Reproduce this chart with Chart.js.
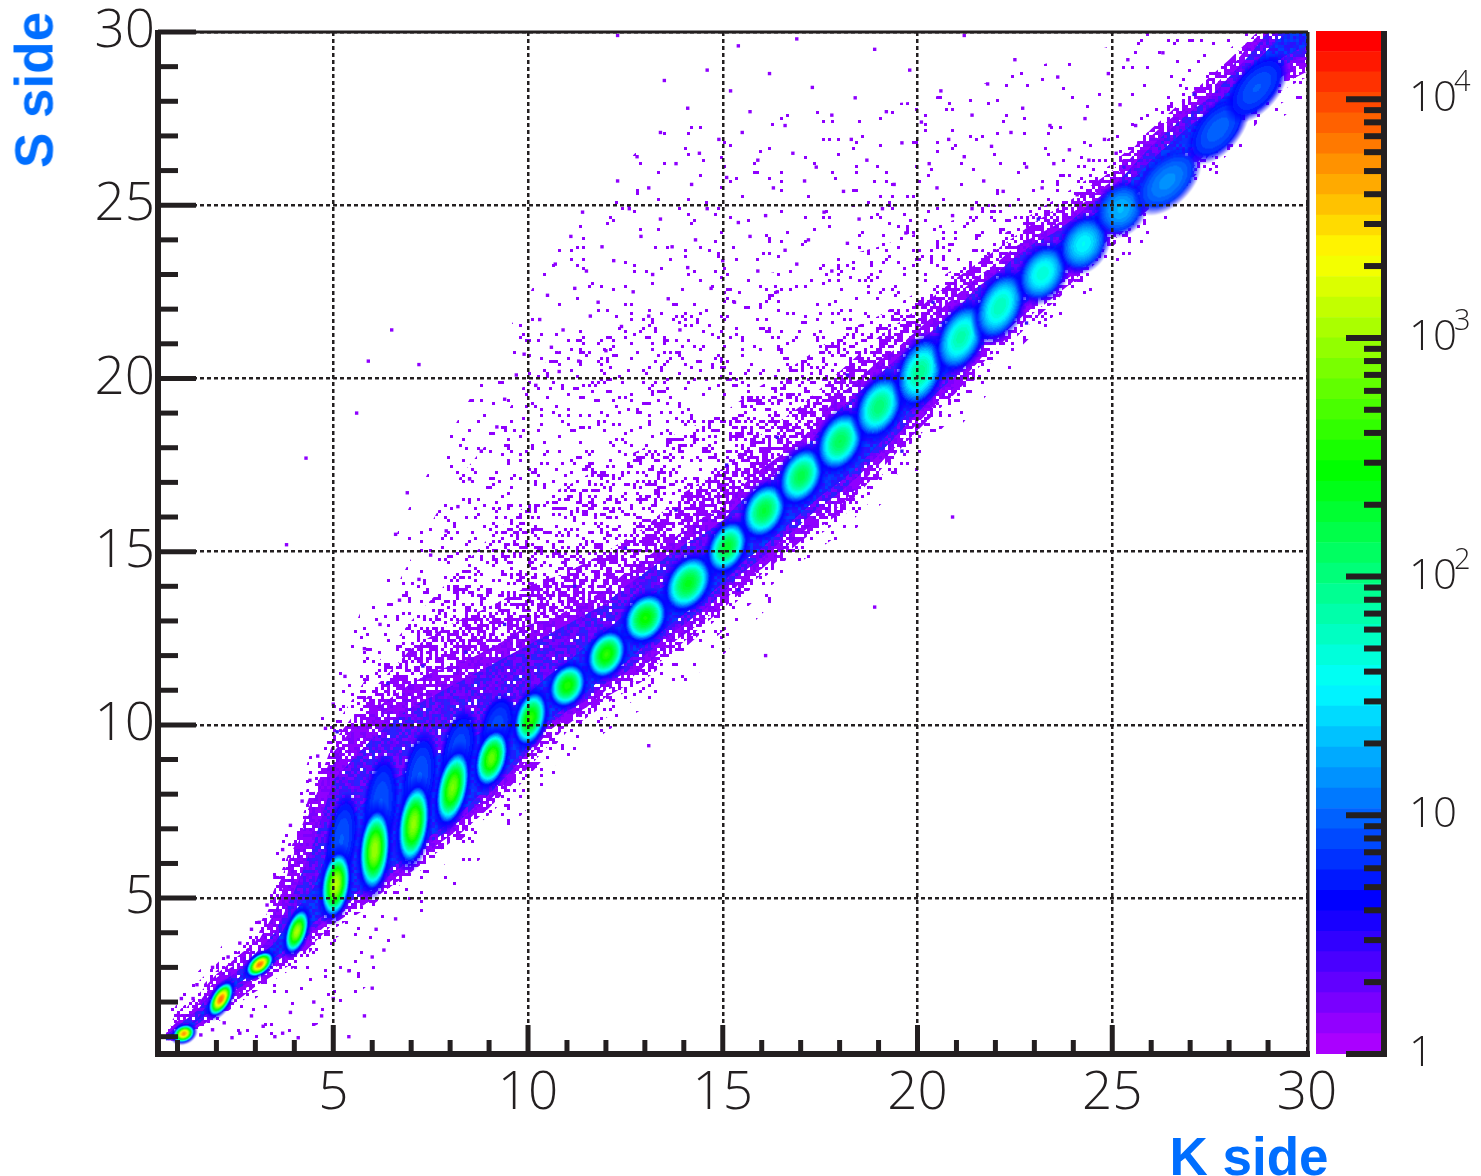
<!DOCTYPE html>
<html>
<head>
<meta charset="utf-8">
<title>S side vs K side</title>
<script src="https://cdn.jsdelivr.net/npm/chart.js@4"></script>
<style>
  html, body { margin: 0; padding: 0; background: #fff; }
  #wrap { position: relative; width: 1481px; height: 1176px; overflow: hidden; }
  canvas { position: absolute; left: 0; top: 0; }
  .axisName { position: absolute; font: bold 53px "Liberation Sans", sans-serif; color: #006eff; white-space: nowrap; line-height: 1; }
</style>
</head>
<body>
<div id="wrap">
  <canvas id="map" width="1481" height="1176"></canvas>
  <canvas id="bar" width="1481" height="1176"></canvas>
  <span class="axisName" style="left:34px;top:90px;transform:translate(-50%,-50%) rotate(-90deg)">S side</span>
  <span class="axisName" style="left:1249px;top:1156px;transform:translate(-50%,-50%)">K side</span>
</div>
<script>
const majorTicks = [5, 10, 15, 20, 25, 30];
const minorTicks = [1, 2, 3, 4, 6, 7, 8, 9, 11, 12, 13, 14, 16, 17, 18, 19, 21, 22, 23, 24, 26, 27, 28, 29];

// outline of the dense band, read every half unit along K
const bandK = [0.7, 1, 1.5, 2, 2.5, 3, 3.5, 4, 4.5, 5, 5.5, 6, 6.5, 7, 7.5, 8, 8.5, 9, 9.5, 10, 10.5, 11, 11.5, 12, 12.5, 13, 13.5, 14, 14.5, 15, 15.5, 16, 16.5, 17, 17.5, 18, 18.5, 19, 19.5, 20, 20.5, 21, 21.5, 22, 22.5, 23, 23.5, 24, 24.5, 25, 25.5, 26, 26.5, 27, 27.5, 28, 28.5, 29, 29.5, 30];
const outerUpper = [1.1, 1.45, 1.9, 2.7, 3.1, 3.6, 4.6, 6.3, 7.8, 9.2, 9.9, 10.4, 10.8, 11.2, 11.5, 11.7, 11.9, 12.2, 12.5, 12.9, 13, 13.3, 13.6, 13.9, 14.4, 14.8, 15.2, 15.6, 16, 16.2, 16.9, 17.4, 17.8, 18.2, 18.9, 19.5, 20, 20.5, 20.9, 21.4, 21.9, 22.4, 22.9, 23.3, 23.8, 24.1, 24.4, 24.8, 25.3, 25.7, 26.4, 27, 27.5, 27.9, 28.3, 28.9, 29.6, 30.2, 30.4, 30.5];
const outerLower = [0.9, 0.9, 1.25, 1.65, 2.2, 2.6, 3, 3.3, 3.9, 4.4, 4.8, 5.1, 5.5, 5.95, 6.4, 6.8, 7.3, 7.8, 8.4, 9, 9.8, 10.2, 10.5, 11, 11.2, 11.7, 12.2, 12.6, 13, 13.5, 14.2, 14.5, 15, 15.5, 16, 16.3, 16.9, 17.5, 18.1, 18.7, 19.3, 19.8, 20.4, 21.1, 21.6, 22.1, 22.6, 23, 23.6, 24.1, 24.7, 25.1, 25.6, 26, 26.6, 27.2, 27.9, 28.5, 28.8, 29];
const midUpper = [1.05, 1.3, 1.75, 2.45, 2.85, 3.4, 4, 5.2, 6.6, 8.4, 9, 9.6, 10.1, 10.5, 10.8, 11.1, 11.4, 11.7, 12, 12.3, 12.6, 12.9, 13.2, 13.5, 14, 14.4, 14.8, 15.2, 15.5, 15.9, 16.5, 16.9, 17.4, 17.9, 18.5, 19.1, 19.6, 20.1, 20.6, 21, 21.5, 22, 22.6, 23, 23.5, 23.9, 24.2, 24.6, 25.1, 25.5, 26.1, 26.7, 27.2, 27.7, 28.1, 28.7, 29.3, 30, 30.3, 30.4];
const midLower = [0.9, 0.92, 1.35, 1.75, 2.35, 2.7, 3.15, 3.5, 4.1, 4.5, 4.95, 5.25, 5.7, 6.1, 6.6, 7, 7.5, 8, 8.6, 9.2, 9.95, 10.4, 10.7, 11.2, 11.5, 12, 12.5, 12.9, 13.3, 13.8, 14.4, 14.8, 15.3, 15.8, 16.3, 16.7, 17.2, 17.8, 18.4, 19, 19.6, 20.1, 20.7, 21.4, 21.9, 22.4, 22.9, 23.3, 23.9, 24.4, 25, 25.4, 25.9, 26.3, 26.9, 27.5, 28.2, 28.8, 29.1, 29.3];
const coreUpper = [1, 1.2, 1.5, 2.3, 2.6, 3.25, 3.7, 4.6, 5.3, 6.8, 7.4, 8, 8.4, 8.7, 9, 9.3, 9.6, 9.9, 10.4, 10.9, 11.4, 11.8, 12.3, 12.7, 13.2, 13.6, 14, 14.5, 14.9, 15.3, 15.9, 16.3, 16.8, 17.3, 17.9, 18.5, 19, 19.5, 20, 20.5, 21, 21.5, 22.1, 22.5, 23, 23.4, 23.8, 24.2, 24.7, 25.1, 25.7, 26.3, 26.8, 27.3, 27.7, 28.3, 28.9, 29.5, 30, 30.2];
const coreLower = [0.92, 0.95, 1.45, 1.85, 2.5, 2.85, 3.3, 3.7, 4.3, 4.7, 5.1, 5.45, 5.9, 6.3, 6.8, 7.2, 7.7, 8.25, 8.8, 9.4, 10.1, 10.55, 10.95, 11.45, 11.8, 12.3, 12.75, 13.2, 13.6, 14.1, 14.7, 15.1, 15.6, 16.1, 16.6, 17, 17.5, 18.1, 18.7, 19.3, 19.9, 20.4, 21, 21.7, 22.2, 22.7, 23.2, 23.6, 24.2, 24.7, 25.2, 25.7, 26.2, 26.6, 27.2, 27.8, 28.4, 29, 29.35, 29.6];

// thinner clouds around the band, read at each whole K
const haloK = [0.7, 1, 2, 3, 4, 5, 6, 7, 8, 9, 10, 11, 12, 13, 14, 15, 16, 17, 18, 19, 20, 21, 22, 23, 24, 25, 26, 27, 28, 29, 30];
const faintUpper = [1.6, 2.3, 3.4, 5, 7.6, 11.5, 14, 16.4, 18.4, 20.4, 22.4, 24.2, 25.6, 26.8, 27.5, 27.6, 27.6, 27.7, 27.8, 27.9, 28, 28.3, 28.6, 29, 29.3, 29.6, 30.5, 30.5, 30.5, 30.5, 30.5];
const faintLower = [0.9, 0.9, 0.9, 0.9, 1, 1.6, 2.6, 4, 5.2, 6.4, 7.6, 8.8, 9.8, 10.5, 11.2, 12, 13.2, 14.3, 15.2, 16.3, 17.3, 18.5, 19.8, 20.9, 22, 23.1, 24.1, 25.1, 26.2, 27.2, 28.1];
const looseUpper = [1.3, 2, 3.1, 4.2, 7, 10.6, 12.7, 14.8, 16.8, 18.2, 20, 21, 21.5, 22, 22.5, 22.8, 23, 23.2, 23.5, 23.8, 24.2, 24.6, 25, 25.6, 26.3, 27, 27.8, 28.6, 29.5, 30.5, 30.5];
const looseLower = [0.9, 0.9, 1.4, 2.1, 2.8, 3.8, 4.5, 5.2, 6.1, 7, 8, 9.2, 10.2, 10.9, 11.7, 12.7, 13.8, 14.7, 15.5, 16.7, 17.8, 19, 20.2, 21.3, 22.3, 23.5, 24.5, 25.4, 26.5, 27.7, 28.4];
const denseUpper = [1.2, 1.7, 2.9, 3.9, 6.7, 9.9, 11.6, 13, 14.2, 15.4, 16.4, 16.9, 17.5, 18, 18.5, 19, 19.8, 20.5, 21.3, 21.8, 22.5, 23.2, 24, 24.8, 25.5, 26.2, 27.2, 28.1, 29, 30.3, 30.5];
const denseLower = [0.9, 0.9, 1.5, 2.3, 3, 4.1, 4.8, 5.6, 6.4, 7.4, 8.5, 9.8, 10.6, 11.3, 12.2, 13.2, 14.2, 15.1, 15.9, 17.1, 18.3, 19.4, 20.6, 21.7, 22.7, 23.8, 24.8, 25.7, 26.9, 28.1, 28.7];
const thickUpper = [1.15, 1.55, 2.8, 3.75, 6.5, 9.5, 11, 12.2, 12.9, 13.4, 14, 14.4, 15, 15.7, 16.7, 17.4, 18.4, 19.2, 20.2, 21.2, 22, 22.9, 23.7, 24.5, 25.2, 26, 27.2, 28.2, 29.2, 30.3, 30.5];
const thickLower = [0.9, 0.9, 1.58, 2.45, 3.15, 4.25, 4.95, 5.75, 6.6, 7.6, 8.75, 10, 10.8, 11.45, 12.4, 13.35, 14.35, 15.3, 16.1, 17.3, 18.5, 19.6, 20.85, 21.9, 22.8, 23.95, 24.95, 25.85, 27.05, 28.3, 28.85];

// one blob per strip, the faint tails above strips 5 to 9 come first so they sit underneath:
// centre, log10 of the peak count, half sizes in axis units, lean in degrees
const peakK = [5.2, 6.2, 7.2, 8.2, 9.2, 1.15, 2.1, 3.1, 4.05, 5.05, 6.05, 7.05, 8.05, 9.05, 10.05, 11, 12, 13, 14.1, 15.1, 16.05, 17, 18, 19, 20.05, 21.1, 22.1, 23.2, 24.25, 25.2, 26.4, 27.7, 28.7];
const peakS = [6.7, 7.7, 8.5, 9.3, 10, 1.1, 2.1, 3.1, 4.05, 5.4, 6.4, 7.15, 8.2, 9.05, 10.2, 11.15, 12.05, 13.1, 14.1, 15.15, 16.2, 17.2, 18.2, 19.2, 20.2, 21.2, 22.1, 23.05, 23.9, 24.9, 25.7, 27.2, 28.4];
const peakLevel = [0.95, 0.95, 0.95, 0.92, 0.9, 3.7, 3.85, 3.8, 3.05, 3.1, 3, 2.95, 2.85, 2.8, 2.6, 2.55, 2.6, 2.5, 2.35, 2.3, 2.25, 2.2, 2.15, 2.05, 1.95, 1.85, 1.8, 1.7, 1.55, 1.3, 1.15, 1, 0.95];
const peakWidth = [0.3, 0.33, 0.33, 0.33, 0.33, 0.2, 0.22, 0.22, 0.24, 0.33, 0.35, 0.35, 0.35, 0.35, 0.35, 0.39, 0.41, 0.45, 0.47, 0.41, 0.45, 0.45, 0.47, 0.47, 0.47, 0.47, 0.47, 0.47, 0.47, 0.47, 0.45, 0.42, 0.42];
const peakHeight = [1, 1.1, 1, 0.9, 0.7, 0.3, 0.5, 0.42, 0.6, 0.87, 1.07, 1.04, 0.98, 0.75, 0.72, 0.58, 0.64, 0.66, 0.75, 0.69, 0.72, 0.75, 0.78, 0.81, 0.87, 0.87, 0.87, 0.72, 0.69, 0.64, 0.87, 0.87, 0.87];
const peakTilt = [8, 6, 8, 12, 15, 65, 30, 50, 18, 8, 5, 8, 12, 15, 15, 25, 25, 30, 30, 25, 25, 25, 25, 25, 20, 25, 25, 30, 30, 35, 45, 40, 40];

// single hits far from the band
const strayPoints = [
  [12.3,29.9],[15.4,29.6],[16.9,29.8],[21.2,29.9],[18.9,29.5],[14.6,28.9],[16.2,28.8],[19.8,28.9],[22.5,29.2],[13.5,28.6],[15.2,28.3],[17.3,28.4],[18.4,28.1],[20.6,28.3],[21.8,28.5],[23.6,28.7],[24.9,28.8],[25.4,29.2],[26.3,29.4],
  [14.1,27.8],[15.7,27.7],[16.6,27.3],[17.8,27.6],[19.2,27.7],[20.1,27.4],[21.4,27.6],[22.7,27.8],[23.4,27.3],[24.3,27.5],[25.2,27.9],[13.4,27.1],[14.9,26.9],[15.5,27.1],[18.3,26.9],[19.6,26.8],[20.8,26.9],[21.9,26.7],[22.4,27.1],[23.9,26.6],[24.8,26.9],[25.6,27.3],[26.1,26.9],
  [12.8,26.4],[13.8,26.2],[14.4,26.5],[15.9,26.3],[16.8,26.5],[17.4,26.1],[18.7,26.3],[20.3,26.2],[21.2,26.4],[22.8,26.1],[23.5,26.2],[24.4,26.3],[25.1,26.5],[12.3,25.7],[13.1,25.5],[14.2,25.6],[15.1,25.8],[16.3,25.5],[17.1,25.7],[18.1,25.4],[19.4,25.6],[20.5,25.5],[21.7,25.7],[22.2,25.4],[23.2,25.5],[24.1,25.3],
  [11.4,24.8],[12.6,24.9],[13.4,24.6],[14.6,24.9],[15.4,24.5],[16.1,24.7],[17.6,24.8],[18.5,24.6],[19.1,24.9],[20.9,24.7],[21.4,24.9],[11.1,24.1],[11.9,23.8],[12.9,24.1],[13.7,23.8],[14.3,24],[15.7,24.1],[16.6,23.7],[17.2,24],[18.2,23.9],[19.7,24.2],
  [10.7,23.3],[11.5,23.1],[12.2,23.4],[13.2,23],[14.1,23.2],[15,23.4],[15.9,23.1],[16.9,23.3],[17.8,23.1],[10.5,22.4],[11.2,22.6],[11.8,22.2],[12.7,22.5],[13.6,22.3],[14.7,22.6],[15.3,22.2],[16.4,22.5],[10.3,21.7],[10.9,21.4],[11.6,21.8],[12.4,21.5],[13.1,21.8],[13.9,21.4],
  [9.9,20.7],[10.6,20.9],[11.3,20.5],[12,20.8],[9.7,20.1],[10.2,19.8],[10.8,20.2],[9.4,19.4],[9.2,18.6],[8.8,17.9],[8.5,17.1],[8.2,16.3],[7.9,15.6],[7.5,14.9],[7.2,14.2],[6.7,13.6],[6.2,12.9],[5.8,12.2],[5.3,11.4],[5,10.6],[4.8,9.9],[4.6,9.1],[4.4,8.4],[4.2,7.8],[3.9,7.1],[3.7,6.4],[3.5,5.6],[3.3,4.8],[3.1,4.3],[2.9,4.1],[2.6,3.7],[2.3,3.3],[1.9,3],[1.5,2.5],[1.1,2.1],[1.4,2.1],[0.9,2],
  [1.9,1.2],[2.2,1.4],[2.6,1.1],[2.9,1.6],[3.2,1.3],[3.5,1],[3.9,1.7],[3.7,1.1],[4.1,0.97],[4.5,2],[4.7,1.6],[5,2.1],[5.4,1],[5.8,1.6],[6,2.4],[6,3.3],[5.4,2.9],[6.3,3.5],[6.1,4.1],[6.6,4.4],
  [6.8,3.9],[7.1,9.7],[20.9,16],[13.1,9.4],[16.1,12],[18.9,13.4],[7.2,20.4],[5.9,20.5],[6.5,21.4],[3.8,15.2],[4.3,17.7],[6.6,15.5],[6.9,16.7],[5.6,19],[1.6,1.05],[2.4,0.97]
];
const strayBlue = [[6.4,11.2],[7.3,11.7],[8.4,12.1],[5.1,9.8],[9.4,12.9],[11.2,14],[12.5,15.1],[13.8,16.2],[15.1,17.5],[16.4,18.3],[18.2,20.1],[20.4,22.2],[23.1,24.6],[25.3,26.1],[27.1,28.2],[15.4,13.9],[19.6,17.9],[22.8,21.6]];

// palette bin edges of the colour bar
const zEdges = [1, 1.218, 1.484, 1.808, 2.203, 2.683, 3.268, 3.981, 4.85, 5.908, 7.197, 8.767, 10.68, 13.01, 15.85, 19.31, 23.52, 28.65, 34.9, 42.51, 51.8, 63.1, 76.8, 93.6, 114, 139, 169, 206, 251, 306, 373, 454, 553, 674, 821, 1000, 1218, 1484, 1808, 2203, 2683, 3268, 3981, 4850, 5908, 7197, 8767, 10680, 13010, 15850, 19310];
const zDecades = [1, 10, 100, 1000, 10000];
const zMinor = [2, 3, 4, 5, 6, 7, 8, 9, 20, 30, 40, 50, 60, 70, 80, 90, 200, 300, 400, 500, 600, 700, 800, 900, 2000, 3000, 4000, 5000, 6000, 7000, 8000, 9000];

const INK = "#231f20";
const tickFont = { family: "Open Sans", size: 53, weight: "300" };

const paletteHue = (i) => 280 - (i * 280) / 49;

const hueToRgb = (h) => {
  const f = (n) => {
    const k = (n + h / 60) % 6;
    return Math.round(255 * (1 - Math.max(0, Math.min(k, 4 - k, 1))));
  };
  return [f(5), f(3), f(1)];
};

const toXY = (xs, ys) => xs.map((x, i) => ({ x: x, y: ys[i] }));
const pairs = (list) => list.map((p) => ({ x: p[0], y: p[1] }));

// fill texture for the clouds: 3px bins, same mask at every coverage so the levels nest
const grain = (i, j, seed) => {
  const v = Math.sin(i * 12.9898 + j * 78.233 + seed) * 43758.5453;
  return v - Math.floor(v);
};
const stipple = (coverage, shades) => {
  const tile = document.createElement("canvas");
  tile.width = 360;
  tile.height = 360;
  const g = tile.getContext("2d");
  for (let j = 0; j < 120; j++) {
    for (let i = 0; i < 120; i++) {
      if (grain(i, j, 0) > coverage) continue;
      g.fillStyle = shades[Math.floor(grain(i, j, 7) * shades.length)];
      g.fillRect(i * 3, j * 3, 3, 3);
    }
  }
  return g.createPattern(tile, "repeat");
};

// rainbow ellipse for a strip, quantised on the same 50 steps as the colour bar
const blobCache = {};
const blobStyle = (ctx) => {
  const i = ctx.dataIndex;
  if (blobCache[i]) return blobCache[i];
  if (!ctx.chart.chartArea) return "circle";
  const sx = ctx.chart.scales.x;
  const sy = ctx.chart.scales.y;
  const a = Math.abs(sx.getPixelForValue(peakK[i] + peakWidth[i]) - sx.getPixelForValue(peakK[i]));
  const b = Math.abs(sy.getPixelForValue(peakS[i] + peakHeight[i]) - sy.getPixelForValue(peakS[i]));
  if (!(a > 0 && b > 0)) return "circle";
  const size = Math.ceil(3 * Math.max(a, b)) + 2;
  const c = document.createElement("canvas");
  c.width = size;
  c.height = size;
  const g = c.getContext("2d");
  const img = g.createImageData(size, size);
  const t = (peakTilt[i] * Math.PI) / 180;
  const peak = peakLevel[i];
  const base = Math.min(0.85, peak * 0.75);
  for (let py = 0; py < size; py++) {
    for (let px = 0; px < size; px++) {
      const dx = px - size / 2;
      const dy = py - size / 2;
      const u = (dx * Math.cos(t) + dy * Math.sin(t)) / a;
      const v = (dx * Math.sin(t) - dy * Math.cos(t)) / b;
      const r2 = u * u + v * v;
      const r = Math.sqrt(r2);
      if (r > 1.4) continue;
      const level = Math.max(0.66, base + (peak - base) * (1 - r2));
      const step = Math.min(49, Math.floor((level / 4.286) * 50));
      const rgb = hueToRgb(paletteHue(step));
      const o = (py * size + px) * 4;
      img.data[o] = rgb[0];
      img.data[o + 1] = rgb[1];
      img.data[o + 2] = rgb[2];
      img.data[o + 3] = 255 * Math.min(1, (1.4 - r) / 0.4);
    }
  }
  g.putImageData(img, 0, 0);
  blobCache[i] = c;
  return c;
};

const layerPair = (xs, upper, lower, color, order) => [
  { data: toXY(xs, upper), showLine: true, fill: "+1", backgroundColor: color, borderWidth: 0, pointRadius: 0, order: order },
  { data: toXY(xs, lower), showLine: true, fill: false, borderWidth: 0, pointRadius: 0, order: order },
];

// ROOT style frame: thick left and bottom, thin top and right, ticks pointing inwards
const frameTicks = {
  id: "frameTicks",
  afterDraw(chart) {
    const { ctx, chartArea: area, scales } = chart;
    ctx.save();
    ctx.strokeStyle = INK;
    ctx.lineWidth = 5;
    const line = (x1, y1, x2, y2) => {
      ctx.beginPath();
      ctx.moveTo(x1, y1);
      ctx.lineTo(x2, y2);
      ctx.stroke();
    };
    minorTicks.forEach((v) => {
      const px = scales.x.getPixelForValue(v);
      const py = scales.y.getPixelForValue(v);
      line(px, area.bottom, px, area.bottom - 14);
      line(area.left, py, area.left + 20, py);
    });
    majorTicks.forEach((v) => {
      const px = scales.x.getPixelForValue(v);
      const py = scales.y.getPixelForValue(v);
      if (v < 30) line(px, area.bottom, px, area.bottom - 29);
      line(area.left, py, area.left + 38, py);
    });
    ctx.lineWidth = 6;
    line(area.left, area.top - 2, area.left, area.bottom + 3);
    line(area.left - 3, area.bottom, area.right + 3, area.bottom);
    ctx.lineWidth = 3;
    line(area.left, area.top, area.right + 1, area.top);
    line(area.right + 1, area.top, area.right + 1, area.bottom);
    ctx.restore();
  },
};

const barTicks = {
  id: "barTicks",
  afterDraw(chart) {
    const { ctx, chartArea: area, scales } = chart;
    const y = scales.y;
    ctx.save();
    ctx.strokeStyle = INK;
    ctx.lineWidth = 6;
    const line = (x1, y1, x2, y2) => {
      ctx.beginPath();
      ctx.moveTo(x1, y1);
      ctx.lineTo(x2, y2);
      ctx.stroke();
    };
    line(area.right + 3, area.top, area.right + 3, area.bottom + 3);
    zMinor.forEach((v) => line(area.right, y.getPixelForValue(v), area.right - 17, y.getPixelForValue(v)));
    zDecades.forEach((v) => line(area.right, y.getPixelForValue(v), area.right - 35, y.getPixelForValue(v)));
    ctx.fillStyle = INK;
    ctx.font = '300 29px "Open Sans"';
    ctx.textBaseline = "alphabetic";
    zDecades.forEach((v, i) => {
      if (i > 1) ctx.fillText(String(i), area.right + 73, y.getPixelForValue(v) - 8);
    });
    ctx.restore();
  },
};

const onlyMajorTicks = (scale) => {
  scale.ticks = majorTicks.map((v) => ({ value: v }));
};

new Chart("map", {
  type: "scatter",
  data: {
    datasets: [
      { label: "peaks", data: toXY(peakK, peakS), pointStyle: blobStyle, pointRadius: 1, order: 1 },
      { label: "blue hits", data: pairs(strayBlue), backgroundColor: "#3a10ff", borderWidth: 0, pointStyle: "rect", pointRadius: 2.4, order: 2 },
      ...layerPair(bandK, coreUpper, coreLower, stipple(1.1, ["#1c1cff", "#0a30ff", "#2a10ff", "#0040ff"]), 3),
      ...layerPair(bandK, midUpper, midLower, stipple(0.97, ["#6a00ff", "#4010ff", "#7a00ff", "#2a20ff"]), 4),
      ...layerPair(bandK, outerUpper, outerLower, stipple(0.85, ["#8f00ff", "#8f00ff", "#7a00ff"]), 5),
      ...layerPair(haloK, thickUpper, thickLower, stipple(0.58, ["#8f00ff"]), 6),
      ...layerPair(haloK, denseUpper, denseLower, stipple(0.26, ["#8f00ff"]), 7),
      ...layerPair(haloK, looseUpper, looseLower, stipple(0.09, ["#8f00ff"]), 8),
      ...layerPair(haloK, faintUpper, faintLower, stipple(0.03, ["#8f00ff"]), 9),
      { label: "hits", data: pairs(strayPoints), backgroundColor: "#8f00ff", borderWidth: 0, pointStyle: "rect", pointRadius: 2.4, order: 10 },
    ],
  },
  options: {
    responsive: false,
    animation: false,
    devicePixelRatio: 1,
    layout: { padding: { top: 32, right: 174, left: 0, bottom: 0 } },
    plugins: { legend: { display: false }, tooltip: { enabled: false } },
    scales: {
      x: {
        type: "linear",
        min: 0.5,
        max: 30,
        afterBuildTicks: onlyMajorTicks,
        afterFit: (s) => { s.height = 122; s.paddingLeft = 0; s.paddingRight = 0; },
        grid: { z: 1, color: INK, lineWidth: 2.5, drawTicks: false },
        border: { display: false, dash: [4, 3] },
        ticks: { color: INK, font: tickFont, padding: 8, maxRotation: 0, autoSkip: false },
      },
      y: {
        type: "linear",
        min: 0.5,
        max: 30,
        afterBuildTicks: onlyMajorTicks,
        afterFit: (s) => { s.width = 158; s.paddingTop = 0; s.paddingBottom = 0; },
        grid: { z: 1, color: INK, lineWidth: 2.5, drawTicks: false },
        border: { display: false, dash: [4, 3] },
        ticks: { color: INK, font: tickFont, padding: 3, autoSkip: false },
      },
    },
  },
  plugins: [frameTicks],
});

new Chart("bar", {
  type: "bar",
  data: {
    labels: ["counts"],
    datasets: zEdges.slice(0, -1).map((low, i) => {
      const rgb = hueToRgb(paletteHue(i));
      return {
        data: [[low, zEdges[i + 1]]],
        backgroundColor: `rgb(${rgb[0]},${rgb[1]},${rgb[2]})`,
        barPercentage: 1,
        categoryPercentage: 1,
        grouped: false,
      };
    }),
  },
  options: {
    responsive: false,
    animation: false,
    devicePixelRatio: 1,
    layout: { padding: { top: 31, left: 1316, bottom: 122, right: 0 } },
    plugins: { legend: { display: false }, tooltip: { enabled: false } },
    scales: {
      x: { display: false },
      y: {
        type: "logarithmic",
        position: "right",
        min: 1,
        max: 19310,
        afterBuildTicks: (s) => { s.ticks = zDecades.map((v) => ({ value: v })); },
        afterFit: (s) => { s.width = 100; s.paddingTop = 0; s.paddingBottom = 0; },
        grid: { display: false },
        border: { display: false },
        ticks: {
          color: INK,
          font: { family: "Open Sans", size: 42, weight: "300" },
          padding: 20,
          autoSkip: false,
          callback: (v) => (v === 1 ? "1" : "10"),
        },
      },
    },
  },
  plugins: [barTicks],
});
</script>
</body>
</html>
